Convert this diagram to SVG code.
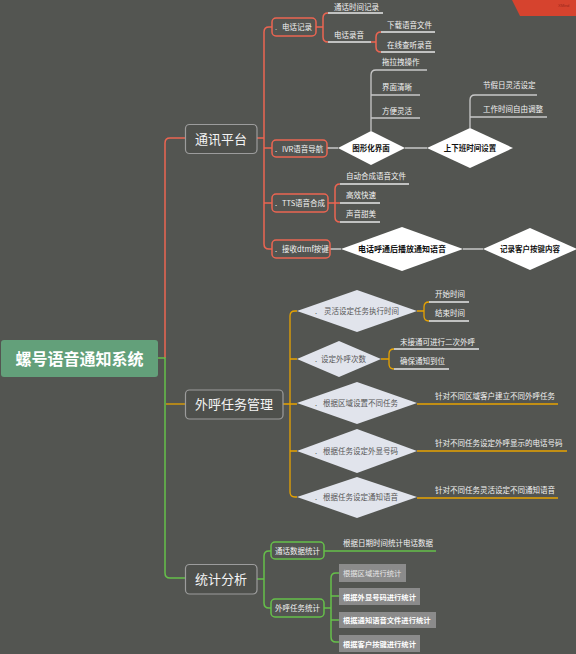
<svg xmlns="http://www.w3.org/2000/svg" width="576" height="654" viewBox="0 0 576 654">
<style>
text{font-family:"Noto Sans CJK SC","Liberation Sans",sans-serif;}
.t{font-size:7.5px;fill:#f2f2f2;}
.main{font-size:13px;fill:#f4f4f4;text-anchor:middle;}
.mbox{fill:#4e504c;stroke:#9c9c9c;stroke-width:1.2;}
.rbox{fill:#535551;stroke:#ec6552;stroke-width:1.5;}
.gbox{fill:#535551;stroke:#66c04a;stroke-width:1.5;}
.dia{fill:#ffffff;}
.odia{fill:#e1e4ec;}
.dt{font-size:7.5px;fill:#111;font-weight:bold;text-anchor:middle;}
.ot{font-size:7.5px;fill:#555;}
.gray{fill:#8b8b8b;}
.gt{font-size:7.3px;fill:#fff;font-weight:bold;}
.red{stroke:#ec6552;fill:none;stroke-width:1.5;}
.org{stroke:#e7a300;fill:none;stroke-width:1.3;}
.grn{stroke:#66c04a;fill:none;stroke-width:1.5;}
.wl{stroke:#e6e6e6;fill:none;stroke-width:1.3;}
.gl{stroke:#c8c8c8;fill:none;stroke-width:1.3;}
</style>
<rect width="576" height="654" fill="#535551"/>
<g id="watermark">
<polygon points="512,0 576,0 576,16 520,16" fill="#d6432e"/>
<text x="558" y="7" style="font-size:4px;fill:#9a2a1c;font-family:'Liberation Sans',sans-serif">XMind</text>
</g>
<g id="connectors">
<path class="red" d="M185,138 H170 Q165,138 165,143 V358" stroke-width="3"/>
<path class="grn" d="M158,358 H165 V573 Q165,578 170,578 H185" stroke-width="3"/>
<path class="org" d="M166,404 H185"/>
<path class="red" d="M257,138 H264 M272,27 H269 Q264,27 264,32 V244 Q264,249 269,249 H272 M264,148 H272 M264,203 H272"/>
<path class="red" d="M316,27 H323 M328,13 Q323,13 323,18 V37 Q323,42 328,42 M371,42 H376 M381,32 Q376,32 376,37 V47 Q376,52 381,52"/>
<path class="wl" d="M328,13 H383 M328,42 H371 M381,32 H435 M381,52 H435"/>
<path class="gl" d="M327,148 H338 M405,148 H427 M330,249 H341 M463,249 H483"/>
<path class="gl" d="M371,131 V75 Q371,70 376,70 H427 M371,95 H420 M371,118 H420"/>
<path class="gl" d="M470,128 V100 Q470,95 475,95 H537 M470,117 H547"/>
<path class="red" d="M328,203 H335 M340,184 Q335,184 335,189 V217 Q335,222 340,222 M335,203 H340"/>
<path class="wl" d="M340,184 H409 M340,203 H380 M340,222 H380"/>
<path class="org" d="M283,404 H297 M297,311 H295 Q290,311 290,316 V492 Q290,497 295,497 H297 M290,359 H297 M290,451 H297"/>
<path class="org" d="M417,311 H424 M429,302 Q424,302 424,307 V316 Q424,321 429,321 M381,359 H389 M394,349 Q389,349 389,354 V364 Q389,369 394,369"/>
<path class="wl" d="M429,302 H469 M429,321 H469 M394,349 H479 M394,369 H449"/>
<path class="org" d="M417,404 H558 M417,451 H567 M417,498 H558"/>
<path class="grn" d="M257,579 H264 M271,551 H269 Q264,551 264,556 V603 Q264,608 269,608 H271 M324,551 H436 M324,608 H331 M339,573 H336 Q331,573 331,578 V637 Q331,642 336,642 H339 M331,596 H339 M331,620 H339"/>
</g>
<g id="root">
<rect x="1" y="340" width="157" height="37" rx="3" fill="#63a07a"/>
<text x="79.5" y="365" style="font-size:16px;font-weight:bold;fill:#fff;text-anchor:middle">螺号语音通知系统</text>
</g>
<g id="n-txpt"><rect class="mbox" x="185.5" y="124.5" width="71.5" height="29" rx="4"/><text class="main" x="221" y="143.5">通讯平台</text></g>
<g id="n-whrw"><rect class="mbox" x="185.5" y="390" width="97.5" height="29" rx="4"/><text class="main" x="234" y="409">外呼任务管理</text></g>
<g id="n-tjfx"><rect class="mbox" x="185.5" y="564.5" width="71.5" height="29.5" rx="4"/><text class="main" x="221" y="584">统计分析</text></g>
<g id="n-dhjl"><rect class="rbox" x="272" y="18" width="44" height="18" rx="4"/><text class="t" x="275" y="30" fill-opacity="0.7">.</text><text class="t" x="282" y="30">电话记录</text></g>
<g id="n-ivr"><rect class="rbox" x="272" y="140" width="55" height="17" rx="4"/><text class="t" x="275" y="151.5">.</text><text class="t" x="282" y="151.5">IVR语音导航</text></g>
<g id="n-tts"><rect class="rbox" x="272" y="194" width="56" height="18" rx="4"/><text class="t" x="275" y="206">.</text><text class="t" x="282" y="206">TTS语音合成</text></g>
<g id="n-dtmf"><rect class="rbox" x="272" y="240" width="58" height="18" rx="4"/><text class="t" x="275" y="252">.</text><text class="t" x="282" y="252">接收dtmf按键</text></g>
<g id="n-thsj"><text class="t" x="334" y="10">通话时间记录</text></g>
<g id="n-dhly"><text class="t" x="334" y="38">电话录音</text></g>
<g id="n-xzyy"><text class="t" x="387" y="28">下载语音文件</text></g>
<g id="n-zxct"><text class="t" x="387" y="48">在线查听录音</text></g>
<g id="n-txhjm"><polygon class="dia" points="338,148 371,131 405,148 371,165"/><text class="dt" x="371" y="151">图形化界面</text></g>
<g id="n-sxb"><polygon class="dia" points="427,148 470,128 513,148 470,168"/><text class="dt" x="470" y="151">上下班时间设置</text></g>
<g id="n-tlz"><text class="t" x="382" y="65">拖拉拽操作</text></g>
<g id="n-jmqx"><text class="t" x="382" y="90">界面清晰</text></g>
<g id="n-fblh"><text class="t" x="382" y="114">方便灵活</text></g>
<g id="n-jjr"><text class="t" x="483" y="88">节假日灵活设定</text></g>
<g id="n-gzsj"><text class="t" x="483" y="112">工作时间自由调整</text></g>
<g id="n-zdhc"><text class="t" x="346" y="179">自动合成语音文件</text></g>
<g id="n-gxks"><text class="t" x="346" y="198">高效快速</text></g>
<g id="n-sytm"><text class="t" x="346" y="217">声音甜美</text></g>
<g id="n-dhht"><polygon class="dia" points="341,249 402,227 463,249 402,271"/><text class="dt" x="402" y="252" style="font-size:8px">电话呼通后播放通知语音</text></g>
<g id="n-jlkh"><polygon class="dia" points="483,249 530,228 577,249 530,270"/><text class="dt" x="530" y="252">记录客户按键内容</text></g>
<g id="n-lhsd"><polygon class="odia" points="297,311 357,290 417,311 357,332"/><text class="ot" x="315" y="314">.</text><text class="ot" x="324" y="314">灵活设定任务执行时间</text></g>
<g id="n-sdwh"><polygon class="odia" points="297,359 339,341 381,359 339,377"/><text class="ot" x="315" y="362">.</text><text class="ot" x="321" y="362">设定外呼次数</text></g>
<g id="n-gjqy"><polygon class="odia" points="297,403 357,382 417,403 357,424"/><text class="ot" x="315" y="406">.</text><text class="ot" x="323" y="406">根据区域设置不同任务</text></g>
<g id="n-gjwx"><polygon class="odia" points="297,451 357,429 417,451 357,473"/><text class="ot" x="315" y="454">.</text><text class="ot" x="323" y="454">根据任务设定外显号码</text></g>
<g id="n-gjtz"><polygon class="odia" points="297,497 357,477 417,497 357,518"/><text class="ot" x="315" y="500">.</text><text class="ot" x="323" y="500">根据任务设定通知语音</text></g>
<g id="n-kssj"><text class="t" x="435" y="297">开始时间</text></g>
<g id="n-jssj"><text class="t" x="435" y="316">结束时间</text></g>
<g id="n-wjt"><text class="t" x="400" y="345">未接通可进行二次外呼</text></g>
<g id="n-qbtz"><text class="t" x="400" y="364">确保通知到位</text></g>
<g id="n-zdqy"><text class="t" x="435" y="399">针对不同区域客户建立不同外呼任务</text></g>
<g id="n-zdwx"><text class="t" x="435" y="446">针对不同任务设定外呼显示的电话号码</text></g>
<g id="n-zdyy"><text class="t" x="435" y="493">针对不同任务灵活设定不同通知语音</text></g>
<g id="n-thsjtj"><rect class="gbox" x="271" y="542" width="53" height="17" rx="4"/><text class="t" x="297.5" y="553.5" text-anchor="middle">通话数据统计</text></g>
<g id="n-whrwtj"><rect class="gbox" x="271" y="599" width="53" height="18" rx="4"/><text class="t" x="297.5" y="611" text-anchor="middle">外呼任务统计</text></g>
<g id="n-rqsj"><text class="t" x="343" y="546">根据日期时间统计电话数据</text></g>
<g id="n-qytj"><rect class="gray" x="339" y="564" width="67" height="18"/><text class="gt" x="343" y="576" style="font-weight:normal;fill:#e6e6e6">根据区域进行统计</text></g>
<g id="n-wxtj"><rect class="gray" x="339" y="588" width="81" height="17"/><text class="gt" x="343" y="599.5">根据外显号码进行统计</text></g>
<g id="n-yytj"><rect class="gray" x="339" y="612" width="97" height="16"/><text class="gt" x="343" y="623">根据通知语音文件进行统计</text></g>
<g id="n-ajtj"><rect class="gray" x="339" y="635" width="81" height="17"/><text class="gt" x="343" y="646.5">根据客户按键进行统计</text></g>
</svg>
